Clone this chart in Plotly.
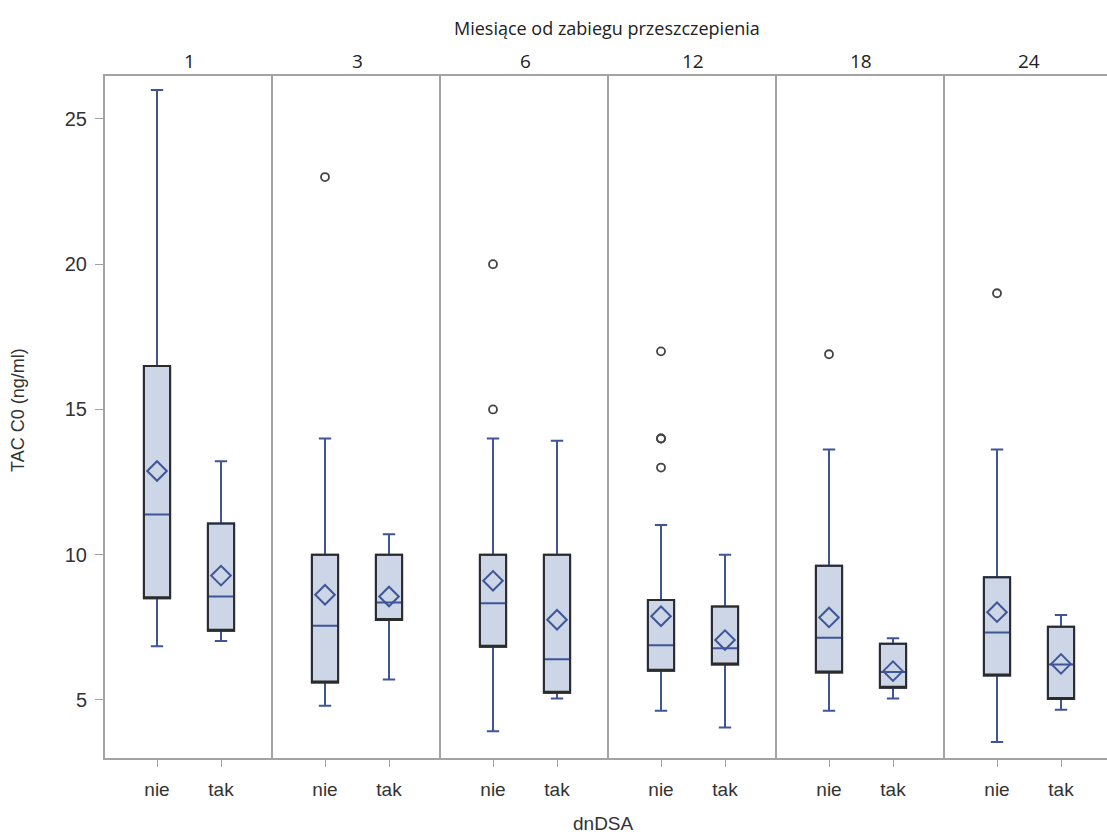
import plotly.graph_objects as go
from plotly.subplots import make_subplots

# Months since transplantation (one panel each) and dnDSA groups
months = ["1", "3", "6", "12", "18", "24"]
groups = ["nie", "tak"]

# Box statistics per panel: [nie, tak]
q1 = [[8.5, 7.38], [5.6, 7.75], [6.83, 5.25], [6.0, 6.22], [5.94, 5.42], [5.84, 5.03]]
median = [[11.38, 8.56], [7.55, 8.35], [8.33, 6.4], [6.88, 6.78], [7.14, 5.96], [7.32, 6.22]]
q3 = [[16.5, 11.07], [10.0, 10.0], [10.0, 10.0], [8.44, 8.22], [9.62, 6.93], [9.22, 7.52]]
whisker_low = [[6.85, 7.03], [4.8, 5.7], [3.92, 5.05], [4.63, 4.05], [4.63, 5.05], [3.55, 4.66]]
whisker_high = [[26.0, 13.22], [14.0, 10.7], [14.0, 13.92], [11.02, 10.0], [13.62, 7.12], [13.62, 7.92]]
mean = [[12.88, 9.28], [8.62, 8.56], [9.1, 7.76], [7.88, 7.06], [7.84, 5.99], [8.02, 6.24]]

# Outlying observations (all in the "nie" group)
outliers = [[], [23.0], [20.0, 15.0], [17.0, 14.0, 14.0, 13.0], [16.9], [19.0]]

y_ticks = [5, 10, 15, 20, 25]

BLUE = "#3e5597"
FILL = "#cdd6e6"
EDGE = "#2b2b2b"
FRAME = "#a3a3a3"
TEXT = "#333333"

W, H = 1107, 836
ML, MR, MT, MB = 105, 0, 76, 78
PANEL_PX = 168
UNIT_PX = 64.0
plot_w = W - ML - MR

fig = make_subplots(rows=1, cols=6, shared_yaxes=True, horizontal_spacing=0)

for i, m in enumerate(months):
    col = i + 1
    # body with blue whiskers, caps and median
    fig.add_trace(go.Box(
        x=groups, q1=q1[i], median=median[i], q3=q3[i],
        lowerfence=whisker_low[i], upperfence=whisker_high[i],
        boxpoints=False, width=0.41, whiskerwidth=0.47,
        fillcolor=FILL, line=dict(color=BLUE, width=2),
        showlegend=False, hoverinfo="skip"), row=1, col=col)
    # dark outline of the interquartile box
    fig.add_trace(go.Box(
        x=groups, q1=q1[i], median=q1[i], q3=q3[i],
        lowerfence=q1[i], upperfence=q3[i],
        boxpoints=False, width=0.41, whiskerwidth=0,
        fillcolor="rgba(0,0,0,0)", line=dict(color=EDGE, width=2),
        showlegend=False, hoverinfo="skip"), row=1, col=col)
    # means
    fig.add_trace(go.Scatter(
        x=groups, y=mean[i], mode="markers",
        marker=dict(symbol="diamond-open", size=15, color=BLUE,
                    line=dict(color=BLUE, width=2)),
        showlegend=False, hoverinfo="skip"), row=1, col=col)
    # outliers
    if outliers[i]:
        fig.add_trace(go.Scatter(
            x=["nie"] * len(outliers[i]), y=outliers[i], mode="markers",
            marker=dict(symbol="circle-open", size=8, color="#444444",
                        line=dict(color="#444444", width=1.8)),
            showlegend=False, hoverinfo="skip"), row=1, col=col)

    left = i * PANEL_PX
    right = min((i + 1) * PANEL_PX, plot_w)
    span = (right - left) / UNIT_PX
    x0 = -0.8125
    axis_name = "xaxis" if i == 0 else f"xaxis{col}"
    fig.layout[axis_name].update(
        domain=[left / plot_w, right / plot_w],
        type="category", categoryorder="array", categoryarray=groups,
        range=[x0, x0 + span],
        showline=True, mirror=True, linecolor=FRAME, linewidth=2,
        ticks="outside", ticklen=7, tickcolor=FRAME, tickwidth=1,
        tickfont=dict(family="Liberation Sans", size=19, color=TEXT),
        ticklabelstandoff=6,
        showgrid=False, zeroline=False, fixedrange=True)
    yaxis_name = "yaxis" if i == 0 else f"yaxis{col}"
    fig.layout[yaxis_name].update(
        range=[3.0, 26.48], showline=True, linecolor=FRAME, linewidth=2,
        showgrid=False, zeroline=False, fixedrange=True)

    # panel header
    fig.add_annotation(
        x=0.5, xref=("x" if i == 0 else f"x{col}"), y=1, yref="paper",
        yanchor="middle", yshift=15, text=m, showarrow=False,
        font=dict(family="Open Sans", size=19, color="#222222"))

fig.layout.yaxis.update(
    tickmode="array", tickvals=y_ticks, ticktext=[str(v) for v in y_ticks],
    ticks="outside", ticklen=8, tickcolor=FRAME, tickwidth=1,
    tickfont=dict(family="Liberation Sans", size=20, color=TEXT),
    ticklabelstandoff=4)

# overall header, axis titles
fig.add_annotation(
    x=(607 - ML) / plot_w, xref="paper", y=1, yref="paper",
    yanchor="middle", yshift=48, text="Miesiące od zabiegu przeszczepienia",
    showarrow=False, font=dict(family="Open Sans", size=18, color="#222222"))
fig.add_annotation(
    x=(18 - ML) / plot_w, xref="paper", y=(758 - 410) / (H - MT - MB), yref="paper",
    xanchor="center", yanchor="middle", textangle=-90, text="TAC C0 (ng/ml)",
    showarrow=False, font=dict(family="Liberation Sans", size=18, color=TEXT))
fig.add_annotation(
    x=(603 - ML) / plot_w, xref="paper", y=(758 - 824) / (H - MT - MB), yref="paper",
    xanchor="center", yanchor="middle", text="dnDSA",
    showarrow=False, font=dict(family="Liberation Sans", size=19, color=TEXT))

fig.update_layout(
    width=W, height=H,
    margin=dict(l=ML, r=MR, t=MT, b=MB),
    paper_bgcolor="white", plot_bgcolor="white",
    boxmode="overlay", showlegend=False)

fig.write_html("out.html")
